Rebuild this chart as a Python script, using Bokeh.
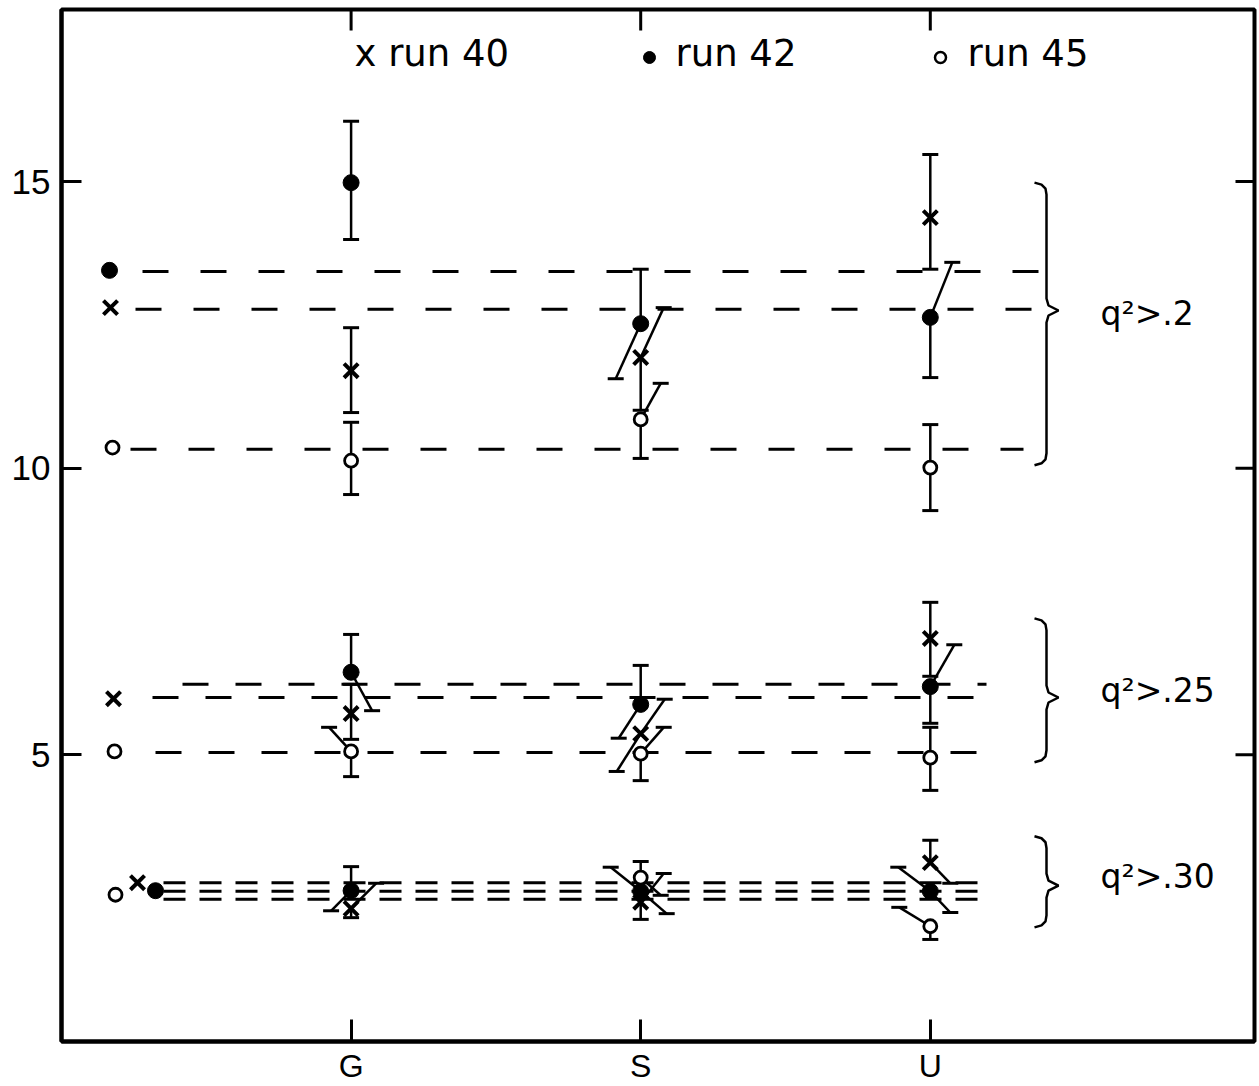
import math
from bokeh.plotting import figure
from bokeh.models import Range1d, FixedTicker
from bokeh.core.properties import value
from bokeh.embed import file_html
from bokeh.resources import INLINE

NaN = float("nan")

# ---------------- data ----------------
categories = ["G", "S", "U"]
cat_x = [1, 2, 3]
y_ticks = [5, 10, 15]
runs = ["run 40", "run 42", "run 45"]
cut_labels = ["q²>.2", "q²>.25", "q²>.30"]

# q^2 > .2   (values at G, S, U; upper / lower error-bar ends)
q20_run40 = [11.70, 11.93, 14.37]
q20_run40_hi = [12.45, 12.80, 15.47]
q20_run40_lo = [10.97, 11.01, 13.47]
q20_run42 = [14.98, 12.52, 12.63]
q20_run42_hi = [16.05, 13.47, 13.59]
q20_run42_lo = [13.99, 11.56, 11.58]
q20_run45 = [10.13, 10.85, 10.01]
q20_run45_hi = [10.80, 11.48, 10.76]
q20_run45_lo = [9.54, 10.17, 9.26]
q20_ref = [12.80, 13.45, 10.36]      # reference points (run 40, 42, 45)
q20_level = [12.77, 13.43, 10.33]    # dashed reference levels

# q^2 > .25
q25_run40 = [5.72, 5.37, 7.03]
q25_run40_hi = [6.23, 5.97, 7.66]
q25_run40_lo = [5.27, 4.71, 6.37]
q25_run42 = [6.44, 5.88, 6.19]
q25_run42_hi = [7.10, 6.56, 6.92]
q25_run42_lo = [5.77, 5.29, 5.55]
q25_run45 = [5.06, 5.02, 4.95]
q25_run45_hi = [5.48, 5.48, 5.48]
q25_run45_lo = [4.62, 4.55, 4.38]
q25_ref = [5.98, NaN, 5.06]
q25_level = [6.00, 6.23, 5.04]

# q^2 > .30
q30_run40 = [2.32, 2.43, 3.12]
q30_run40_hi = [2.76, 2.93, 3.51]
q30_run40_lo = [2.16, 2.13, 2.76]
q30_run42 = [2.63, 2.62, 2.62]
q30_run42_hi = [3.05, 3.04, 3.04]
q30_run42_lo = [2.28, 2.23, 2.25]
q30_run45 = [NaN, 2.86, 2.01]
q30_run45_hi = [NaN, 3.14, 2.34]
q30_run45_lo = [NaN, 2.55, 1.78]
q30_ref = [2.77, 2.63, 2.56]
q30_level = [2.77, 2.62, 2.48]

# brace extents (top, bottom, tip) per cut
brace_top = [14.98, 7.38, 3.58]
brace_bot = [10.05, 4.87, 1.99]
brace_tip = [12.75, 6.00, 2.72]

# ---------------- layout / style ----------------
PX_X = 289.6
PX_Y = 1032 / 18.0
X_MAX = 1193 / PX_X


def dx(px):
    return px / PX_X


def fx(px):  # picture px -> data x (layout only)
    return (px - 61) / PX_X


def fy(py):  # picture px -> data y (layout only)
    return (1041 - py) / PX_Y


groups = [
    dict(vals=[q20_run40, q20_run42, q20_run45],
         hi=[q20_run40_hi, q20_run42_hi, q20_run45_hi],
         lo=[q20_run40_lo, q20_run42_lo, q20_run45_lo],
         ref=q20_ref, level=q20_level,
         dash="26 32", line_px=[(135, 1037), (142, 1043), (130, 1023)],
         ref_px=[110, 109, 112],
         up_shift=[[0, 23, 0], [0, 0, 22], [0, 20, 0]],
         lo_shift=[[0, 0, 0], [0, -25, 0], [0, 0, 0]],
         label_y=313),
    dict(vals=[q25_run40, q25_run42, q25_run45],
         hi=[q25_run40_hi, q25_run42_hi, q25_run45_hi],
         lo=[q25_run40_lo, q25_run42_lo, q25_run45_lo],
         ref=q25_ref, level=q25_level,
         dash="26 27", line_px=[(152, 986), (182, 986), (155, 986)],
         ref_px=[113, 113, 114],
         up_shift=[[0, 24, 0], [0, 0, 24], [-22, 23, 0]],
         lo_shift=[[0, -24, 0], [21, -22, 0], [0, 0, 0]],
         label_y=690),
    dict(vals=[q30_run40, q30_run42, q30_run45],
         hi=[q30_run40_hi, q30_run42_hi, q30_run45_hi],
         lo=[q30_run40_lo, q30_run42_lo, q30_run45_lo],
         ref=q30_ref, level=q30_level,
         dash="22 14", line_px=[(163, 988), (163, 988), (163, 988)],
         ref_px=[137, 155, 115],
         up_shift=[[25, 23, 0], [0, -30, -32], [0, 0, -31]],
         lo_shift=[[0, 0, 20], [-20, 26, 20], [0, 20, 0]],
         label_y=876),
]

p = figure(frame_width=1193, frame_height=1032,
           x_range=Range1d(0, X_MAX), y_range=Range1d(0, 18),
           output_backend="svg", toolbar_location=None,
           min_border_left=61, min_border_right=4, min_border_top=9,
           min_border_bottom=8)
p.background_fill_color = "white"
p.border_fill_color = "white"
p.grid.visible = False
p.outline_line_color = "black"
p.outline_line_width = 4

# axes
p.yaxis.ticker = FixedTicker(ticks=y_ticks)
p.xaxis.ticker = FixedTicker(ticks=cat_x)
p.xaxis.major_label_overrides = {c: lab for c, lab in zip(cat_x, categories)}
for ax in (p.xaxis, p.yaxis):
    ax.axis_line_width = 4
    ax.axis_line_color = "black"
    ax.major_tick_line_width = 3
    ax.major_tick_line_color = "black"
    ax.major_tick_out = 0
    ax.minor_tick_line_color = None
    ax.major_label_text_color = "black"
    ax.major_label_text_font = "Liberation Sans"
p.yaxis.major_tick_in = 20
p.xaxis.major_tick_in = 22
p.yaxis.major_label_text_font_size = "35px"
p.yaxis.major_label_standoff = 11
p.xaxis.major_label_text_font_size = "32px"
p.xaxis.major_label_standoff = 6

# top and right inward ticks
p.segment(x0=cat_x, y0=[18] * 3, x1=cat_x, y1=[18 - 21 / PX_Y] * 3,
          line_color="black", line_width=3)
p.segment(x0=[X_MAX] * 3, y0=y_ticks, x1=[X_MAX - dx(19)] * 3, y1=y_ticks,
          line_color="black", line_width=3)

CAP = dx(8)
seg = dict(x0=[], y0=[], x1=[], y1=[])
cap = dict(x0=[], y0=[], x1=[], y1=[])
pts = {0: ([], []), 1: ([], []), 2: ([], [])}

for g in groups:
    # dashed reference levels
    for r in range(3):
        a, b = g["line_px"][r]
        p.line(x=[fx(a), fx(b)], y=[g["level"][r]] * 2, line_color="black",
               line_width=3, line_dash=g["dash"])
        pts[r][0].append(fx(g["ref_px"][r]))
        pts[r][1].append(g["ref"][r])
    # error bars
    for r in range(3):
        for i, xc in enumerate(cat_x):
            v = g["vals"][r][i]
            if math.isnan(v):
                continue
            for end, sh in ((g["hi"][r][i], g["up_shift"][r][i]),
                            (g["lo"][r][i], g["lo_shift"][r][i])):
                xe = xc + dx(sh)
                seg["x0"].append(xc); seg["y0"].append(v)
                seg["x1"].append(xe); seg["y1"].append(end)
                cap["x0"].append(xe - CAP); cap["y0"].append(end)
                cap["x1"].append(xe + CAP); cap["y1"].append(end)
            pts[r][0].append(xc)
            pts[r][1].append(v)

p.segment(line_color="black", line_width=2.5, **seg)
p.segment(line_color="black", line_width=3, **cap)

p.scatter(x=pts[0][0], y=pts[0][1], marker="x", size=20, line_width=4,
          line_color="black")
p.scatter(x=pts[1][0], y=pts[1][1], marker="circle", size=16,
          fill_color="black", line_color="black")
p.scatter(x=pts[2][0], y=pts[2][1], marker="circle", size=13,
          fill_color="white", line_color="black", line_width=2.8)

# braces and cut labels
for k, g in enumerate(groups):
    t = 1041 - brace_top[k] * PX_Y
    b = 1041 - brace_bot[k] * PX_Y
    m = 1041 - brace_tip[k] * PX_Y
    path = [(1034, t), (1041, t + 2), (1045, t + 6), (1046, t + 12),
            (1046, m - 12), (1048, m - 5), (1058, m), (1048, m + 5),
            (1046, m + 12), (1046, b - 12), (1045, b - 6), (1041, b - 2),
            (1034, b)]
    p.line(x=[fx(a) for a, _ in path], y=[fy(c) for _, c in path],
           line_color="black", line_width=2.5)
    p.text(x=[fx(1100)], y=[fy(g["label_y"])], text=[cut_labels[k]],
           text_font=value("DejaVu Sans"), text_font_size="33px",
           text_color="black", text_baseline="alphabetic", text_align="left")

# legend row
LEG_FONT = dict(text_font=value("DejaVu Sans"), text_font_size="37px",
                text_color="black", text_baseline="alphabetic",
                text_align="left")
p.text(x=[fx(354)], y=[fy(53)], text=["x " + runs[0]], **LEG_FONT)
p.scatter(x=[fx(649)], y=[fy(57)], marker="circle", size=12,
          fill_color="black", line_color="black")
p.text(x=[fx(675)], y=[fy(53)], text=[runs[1]], **LEG_FONT)
p.scatter(x=[fx(940)], y=[fy(57)], marker="circle", size=11,
          fill_color="white", line_color="black", line_width=2.5)
p.text(x=[fx(967)], y=[fy(53)], text=[runs[2]], **LEG_FONT)

open("out.html", "w").write(file_html(p, INLINE))
